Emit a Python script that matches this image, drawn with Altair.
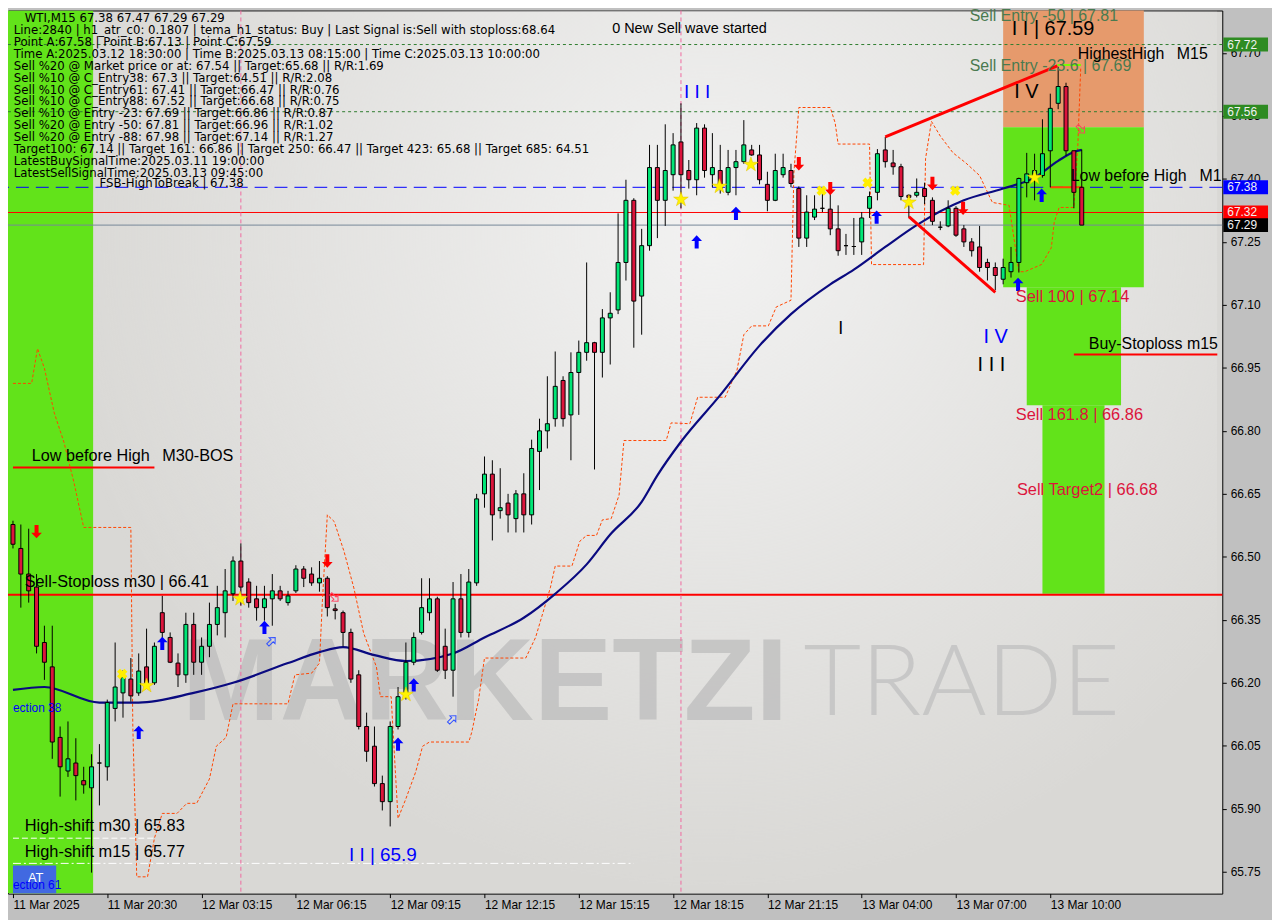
import altair as alt
import pandas as pd

# ---------------- values ----------------
bars = list(range(137))
opens = [66.577,66.520,66.459,66.428,66.296,66.238,66.070,65.990,66.009,65.967,
         65.950,66.009,66.000,66.139,66.176,66.209,66.176,66.238,66.200,66.367,
         66.308,66.247,66.219,66.339,66.249,66.287,66.339,66.367,66.412,66.490,
         66.440,66.400,66.379,66.400,66.419,66.391,66.419,66.471,66.459,66.438,
         66.449,66.376,66.367,66.320,66.219,66.096,66.049,65.960,65.917,66.096,
         66.167,66.249,66.320,66.367,66.400,66.287,66.230,66.400,66.320,66.438,
         66.650,66.697,66.610,66.628,66.591,66.650,66.600,66.751,66.800,66.829,
         66.920,66.838,66.939,66.987,67.010,66.987,67.069,67.088,67.201,67.349,
         67.121,67.241,67.427,67.349,67.410,67.488,67.420,67.398,67.521,67.410,
         67.420,67.368,67.427,67.441,67.469,67.457,67.387,67.349,67.410,67.420,
         67.377,67.259,67.309,67.330,67.328,67.281,67.241,67.239,67.250,67.330,
         67.368,67.469,67.438,67.429,67.361,67.361,67.377,67.349,67.285,67.288,
         67.330,67.281,67.250,67.238,67.201,67.189,67.161,67.179,67.201,67.391,
         67.408,67.408,67.467,67.580,67.620,67.467,67.380]
highs = [66.586,66.577,66.567,66.459,66.336,66.336,66.096,66.108,66.068,66.000,
         66.030,66.054,66.160,66.296,66.230,66.259,66.270,66.329,66.296,66.407,
         66.320,66.270,66.367,66.367,66.308,66.391,66.431,66.471,66.501,66.532,
         66.449,66.431,66.431,66.459,66.431,66.419,66.480,66.478,66.475,66.490,
         66.454,66.388,66.372,66.329,66.230,66.129,66.096,65.979,66.108,66.190,
         66.296,66.320,66.449,66.449,66.405,66.329,66.440,66.459,66.471,66.650,
         66.739,66.730,66.711,66.650,66.659,66.699,66.779,66.829,66.930,66.989,
         66.930,66.987,67.015,67.201,67.012,67.090,67.130,67.318,67.398,67.354,
         67.281,67.481,67.481,67.530,67.509,67.580,67.445,67.533,67.530,67.509,
         67.481,67.469,67.469,67.540,67.481,67.481,67.417,67.460,67.460,67.436,
         67.382,67.361,67.361,67.377,67.377,67.337,67.269,67.307,67.321,67.370,
         67.471,67.500,67.469,67.436,67.363,67.401,67.391,67.356,67.299,67.349,
         67.335,67.290,67.259,67.288,67.210,67.201,67.210,67.238,67.403,67.462,
         67.460,67.542,67.603,67.667,67.629,67.467,67.470]
lows = [66.520,66.379,66.391,66.270,66.207,66.019,65.929,65.976,65.920,65.936,
        65.748,65.908,65.967,66.108,66.117,66.155,66.169,66.190,66.195,66.299,
        66.247,66.190,66.200,66.219,66.219,66.261,66.313,66.308,66.395,66.384,
        66.379,66.348,66.348,66.336,66.395,66.384,66.414,66.428,66.431,66.417,
        66.358,66.351,66.287,66.200,66.089,66.012,65.953,65.896,65.858,66.089,
        66.160,66.242,66.315,66.348,66.226,66.209,66.167,66.308,66.308,66.431,
        66.617,66.539,66.591,66.558,66.558,66.558,66.577,66.659,66.758,66.810,
        66.810,66.730,66.838,66.967,66.708,66.927,66.958,67.078,67.158,66.998,
        67.029,67.229,67.259,67.288,67.372,67.330,67.377,67.361,67.403,67.380,
        67.365,67.361,67.361,67.436,67.455,67.387,67.323,67.347,67.403,67.380,
        67.238,67.238,67.302,67.321,67.266,67.217,67.219,67.219,67.219,67.307,
        67.349,67.427,67.410,67.349,67.309,67.356,67.340,67.290,67.278,67.285,
        67.262,67.238,67.215,67.179,67.158,67.135,67.149,67.165,67.177,67.356,
        67.349,67.403,67.380,67.566,67.455,67.330,67.290]
closes = [66.530,66.459,66.419,66.287,66.249,66.059,66.000,66.019,65.979,65.957,
          66.000,66.009,66.153,66.190,66.214,66.169,66.228,66.200,66.287,66.320,
          66.249,66.219,66.339,66.249,66.287,66.339,66.379,66.419,66.490,66.428,
          66.391,66.379,66.400,66.419,66.400,66.407,66.471,66.449,66.438,66.449,
          66.379,66.372,66.320,66.209,66.096,66.037,65.960,65.917,66.096,66.167,
          66.249,66.308,66.379,66.400,66.230,66.230,66.400,66.320,66.440,66.638,
          66.697,66.600,66.617,66.600,66.650,66.600,66.758,66.800,66.817,66.906,
          66.829,66.939,66.987,67.010,66.987,67.069,67.080,67.201,67.349,67.109,
          67.241,67.427,67.349,67.420,67.481,67.410,67.398,67.521,67.420,67.427,
          67.377,67.427,67.441,67.481,67.457,67.398,67.349,67.420,67.427,67.389,
          67.259,67.321,67.328,67.330,67.281,67.229,67.241,67.239,67.307,67.358,
          67.460,67.441,67.429,67.358,67.356,67.368,67.358,67.299,67.285,67.330,
          67.266,67.250,67.229,67.189,67.189,67.170,67.189,67.201,67.401,67.412,
          67.420,67.460,67.568,67.620,67.467,67.368,67.290]

tick_bars = [0, 12, 24, 36, 48, 60, 72, 84, 96, 108, 120, 132]
tick_labels = ["11 Mar 2025", "11 Mar 20:30", "12 Mar 03:15", "12 Mar 06:15",
               "12 Mar 09:15", "12 Mar 12:15", "12 Mar 15:15", "12 Mar 18:15",
               "12 Mar 21:15", "13 Mar 04:00", "13 Mar 07:00", "13 Mar 10:00"]
price_ticks = [65.75, 65.90, 66.05, 66.20, 66.35, 66.50, 66.65, 66.80,
               66.95, 67.10, 67.25, 67.40, 67.55, 67.70]

ma_bars = [0,4,11,16,23,28,35,39,42,46,50,56,60,65,69,73,76,80,82,85,
           90,95,99,104,107,111,115,121,126,130,133,135,136]
ma_values = [66.183,66.190,66.153,66.153,66.176,66.200,66.247,66.273,66.285,66.266,
             66.252,66.270,66.308,66.355,66.412,66.482,66.553,66.631,66.694,66.774,
             66.885,67.003,67.078,67.149,67.184,67.238,67.290,67.349,67.377,67.403,
             67.443,67.464,67.469]

stop_bars = [0,2.375,3.125,4.0,5.25,6.5,7.75,9.0,15.0,15.25,15.75,17.125,18.0,19.0,
             20.875,22.125,23.375,25.0,25.875,27.125,28.0,35.0,35.875,38.0,39.0,39.375,
             40.0,40.875,42.125,43.375,44.625,46.25,46.75,48.125,48.375,49.0,50.0,51.25,
             52.125,53.0,58.0,58.375,59.25,60.0,65.25,66.5,68.375,69.0,71.125,72.125,73.0,
             74.25,75.0,76.125,77.125,77.75,83.125,83.75,86.125,87.125,90.625,92.125,93.0,
             94.0,96.125,97.125,99.0,99.375,100.0,104.0,104.625,105.0,109.0,109.25,115.875,
             116.125,116.875,118.0,119.625,121.25,123.0,124.625,126.75,127.5,128.0,128.75,
             130.875,132.125,132.5,133.125,135.0,135.5,135.875]
stop_values = [66.913,66.913,66.996,66.949,66.843,66.772,66.678,66.570,66.570,66.096,
               65.738,65.738,65.830,65.889,65.889,65.913,65.913,65.971,66.049,66.070,
               66.150,66.150,66.219,66.223,66.247,66.395,66.600,66.584,66.513,66.426,
               66.318,66.238,66.167,66.167,66.082,65.877,65.924,65.988,66.049,66.059,
               66.059,66.082,66.160,66.259,66.259,66.308,66.426,66.478,66.478,66.537,
               66.551,66.551,66.588,66.591,66.647,66.777,66.777,66.819,66.817,66.880,
               66.880,66.944,67.029,67.050,67.050,67.095,67.111,67.415,67.570,67.570,
               67.533,67.483,67.483,67.196,67.196,67.448,67.537,67.502,67.462,67.438,
               67.408,67.344,67.337,67.243,67.179,67.179,67.196,67.236,67.297,67.332,
               67.332,67.478,67.667]

buy_arrow_bars = [16, 19, 32, 49, 51, 87, 92, 109.9, 127.9, 130.9]
buy_arrow_prices = [66.082, 66.294, 66.332, 66.054, 66.195, 67.250, 67.318, 67.309, 67.149, 67.361]
sell_arrow_bars = [3, 40, 100, 104, 117, 120.9]
sell_arrow_prices = [66.560, 66.490, 67.436, 67.377, 67.389, 67.330]
star_bars = [17, 28.9, 50, 85, 89.9, 93.9, 114, 130]
star_prices = [66.193, 66.400, 66.172, 67.351, 67.382, 67.434, 67.344, 67.403]
cross_bars = [13.9, 102.9, 108.75, 119.9]
cross_prices = [66.221, 67.372, 67.391, 67.372]
hollow_buy_bars = [32.9, 55.9]
hollow_buy_prices = [66.299, 66.113]
hollow_sell_bars = [40.9, 135.9]
hollow_sell_prices = [66.403, 67.518]

info_lines = [
    "Line:2840 | h1_atr_c0: 0.1807 | tema_h1_status: Buy | Last Signal is:Sell with stoploss:68.64",
    "Point A:67.58 | Point B:67.13 | Point C:67.59",
    "Time A:2025.03.12 18:30:00 | Time B:2025.03.13 08:15:00 | Time C:2025.03.13 10:00:00",
    "Sell %20 @ Market price or at: 67.54 || Target:65.68 || R/R:1.69",
    "Sell %10 @ C_Entry38: 67.3 || Target:64.51 || R/R:2.08",
    "Sell %10 @ C_Entry61: 67.41 || Target:66.47 || R/R:0.76",
    "Sell %10 @ C_Entry88: 67.52 || Target:66.68 || R/R:0.75",
    "Sell %10 @ Entry -23: 67.69 || Target:66.86 || R/R:0.87",
    "Sell %20 @ Entry -50: 67.81 || Target:66.96 || R/R:1.02",
    "Sell %20 @ Entry -88: 67.98 || Target:67.14 || R/R:1.27",
    "Target100: 67.14 || Target 161: 66.86 || Target 250: 66.47 || Target 423: 65.68 || Target 685: 64.51",
    "LatestBuySignalTime:2025.03.11 19:00:00",
    "LatestSellSignalTime:2025.03.13 09:45:00",
]
title_line = "WTI,M15  67.38 67.47 67.29 67.29"

tag_prices = [67.72, 67.56, 67.38, 67.32, 67.29]
tag_colors = ["#2E8B22", "#2E8B22", "#0000FF", "#FF0000", "#000000"]

# ---------------- layout ----------------
W, H = 1221, 888
X_DOM = [0, 153.25]
Y_DOM = [65.698, 67.801]
FONT = "Liberation Sans"
INFO_FONT = "DejaVu Sans"

xs = alt.Scale(domain=X_DOM, nice=False, zero=False)
ys = alt.Scale(domain=Y_DOM, nice=False, zero=False)
label_expr = "[" + ",".join("'%s'" % t for t in tick_labels) + "][round(datum.value/12)]"
xaxis = alt.Axis(values=tick_bars, labelExpr=label_expr, title=None, grid=False,
                 orient="bottom", tickSize=4, tickColor="#000000", domain=False,
                 labelAlign="left", labelFont=FONT, labelFontSize=12, labelColor="#000000",
                 labelPadding=2, labelOverlap=False, labelFlush=False)
yaxis = alt.Axis(values=price_ticks, format=".2f", title=None, grid=False, orient="right",
                 tickSize=4, tickColor="#000000", domain=False, labelFont=FONT,
                 labelFontSize=12, labelColor="#000000", labelPadding=4,
                 labelOverlap=False, labelFlush=False)


def X(f):
    return alt.X(f, type="quantitative", scale=xs, axis=xaxis)


def Y(f):
    return alt.Y(f, type="quantitative", scale=ys, axis=yaxis)


def ref_price(ypx):
    # vertical position of screen-anchored text (reference pixel row -> price)
    return 67.25 - (ypx - 237) / 424.7


candles = pd.DataFrame({"i": bars, "o": opens, "h": highs, "l": lows, "c": closes})

# soft light area behind the watermark logo
glow = alt.Chart(pd.DataFrame({"x": [X_DOM[0]], "x2": [X_DOM[1]], "y": [Y_DOM[0]], "y2": [Y_DOM[1]]})).mark_rect(
    fill=alt.Gradient(gradient="radial", x1=0.58, y1=0.32, x2=0.58, y2=0.32, r1=0, r2=0.55,
                      stops=[alt.GradientStop(color="rgba(246,246,246,0.85)", offset=0),
                             alt.GradientStop(color="rgba(246,246,246,0.35)", offset=0.6),
                             alt.GradientStop(color="rgba(246,246,246,0)", offset=1)])
).encode(x=X("x"), x2="x2", y=Y("y"), y2="y2")

# zones
zones = pd.DataFrame({
    "x": [-1, 126.0, 126.0, 129.0, 131.0],
    "x2": [10.2, 143.9, 143.9, 141.0, 138.9],
    "y": [Y_DOM[0], 67.523, 67.142, 66.861, 66.412],
    "y2": [Y_DOM[1], 67.82, 67.523, 67.142, 66.861],
    "col": ["#62E31A", "#E69A6C", "#62E31A", "#62E31A", "#62E31A"],
})
zone_layer = alt.Chart(zones).mark_rect(clip=True).encode(
    x=X("x"), x2="x2", y=Y("y"), y2="y2", fill=alt.Fill("col:N", scale=None))

at_box = alt.Chart(pd.DataFrame({"x": [0], "x2": [5.5], "y": [Y_DOM[0]], "y2": [65.765]})).mark_rect(
    color="#4169E1", clip=True).encode(x=X("x"), x2="x2", y=Y("y"), y2="y2")

# watermark
wm1 = alt.Chart(pd.DataFrame({"x": [21.5], "y": [66.195], "t": ["MARKETZI"]})).mark_text(
    align="left", baseline="middle", font=FONT, fontWeight="bold", fontSize=118,
    color="#BDBDBD", opacity=0.75).encode(x=X("x"), y=Y("y"), text="t")
wm2 = alt.Chart(pd.DataFrame({"x": [100.6], "y": [66.195], "t": ["TRADE"]})).mark_text(
    align="left", baseline="middle", font="Lato", fontWeight=300, fontSize=100,
    color="#C2C2C2", opacity=0.8).encode(x=X("x"), y=Y("y"), text="t")


def hline(price, color, width=1, dash=None):
    kw = dict(color=color, strokeWidth=width)
    if dash:
        kw["strokeDash"] = dash
    return alt.Chart(pd.DataFrame({"p": [price]})).mark_rule(**kw).encode(y=Y("p"))


def seg(x1, x2, p, color, width=2, dash=None):
    kw = dict(color=color, strokeWidth=width, clip=True)
    if dash:
        kw["strokeDash"] = dash
    return alt.Chart(pd.DataFrame({"x": [x1], "x2": [x2], "p": [p]})).mark_rule(**kw).encode(
        x=X("x"), x2="x2", y=Y("p"))


def diag(x1, p1, x2, p2, color, width=3):
    return alt.Chart(pd.DataFrame({"x": [x1], "x2": [x2], "p": [p1], "p2": [p2]})).mark_rule(
        color=color, strokeWidth=width).encode(x=X("x"), x2="x2", y=Y("p"), y2="p2")


lines = [
    hline(67.72, "#2F7D2F", 1, [3, 3]),
    hline(67.56, "#2F7D2F", 1, [3, 3]),
    hline(67.38, "#0000FF", 1, [13, 7]),
    hline(67.32, "#FF0000", 1),
    hline(67.29, "#778899", 1),
    hline(66.41, "#FF0000", 2),
    seg(0, 18, 66.713, "#FF0000", 2),
    seg(135, 153.25, 66.982, "#FF0000", 2),
    seg(132, 136.1, 67.38, "#FF4500", 2),
    seg(132.9, 135.9, 67.671, "#7CFC00", 2),
    seg(0, 18, 65.83, "#FFFFFF", 1, [6, 3]),
    seg(0, 79, 65.77, "#FFFFFF", 1, [8, 3, 2, 3]),
]

vlines = alt.Chart(pd.DataFrame({"x": [29, 85]})).mark_rule(
    color="#F06AA0", strokeWidth=1, strokeDash=[4, 3]).encode(x=X("x"))

stop_df = pd.DataFrame({"x": stop_bars, "p": stop_values, "k": range(len(stop_bars))})
stop_layer = alt.Chart(stop_df).mark_line(color="#FF4500", strokeWidth=1, strokeDash=[3, 2]).encode(
    x=X("x"), y=Y("p"), order="k:Q")

ma_df = pd.DataFrame({"x": ma_bars, "p": ma_values})
ma_layer = alt.Chart(ma_df).mark_line(color="#0A0A80", strokeWidth=2.2, interpolate="monotone").encode(
    x=X("x"), y=Y("p"))

wicks = alt.Chart(candles).mark_rule(color="#000000", strokeWidth=1).encode(
    x=X("i"), y=Y("l"), y2="h")
bodies = alt.Chart(candles).mark_bar(size=4, stroke="#000000", strokeWidth=1).encode(
    x=X("i"), y=Y("o"), y2="c",
    fill=alt.condition("datum.c >= datum.o", alt.value("#00E676"), alt.value("#DC143C")))

trend = [diag(111.0, 67.500, 132.9, 67.669, "#FF0000", 3),
         diag(114.0, 67.310, 125.0, 67.130, "#FF0000", 3)]

UP = "M0,-1L0.8,-0.15L0.3,-0.15L0.3,1L-0.3,1L-0.3,-0.15L-0.8,-0.15Z"
DOWN = "M0,1L0.8,0.15L0.3,0.15L0.3,-1L-0.3,-1L-0.3,0.15L-0.8,0.15Z"
STAR = ("M0,-1L0.2245,-0.309L0.951,-0.309L0.3633,0.118L0.5878,0.809L0,0.382"
        "L-0.5878,0.809L-0.3633,0.118L-0.951,-0.309L-0.2245,-0.309Z")

buy_layer = alt.Chart(pd.DataFrame({"x": buy_arrow_bars, "p": buy_arrow_prices})).mark_point(
    shape=UP, filled=True, color="#0000FF", size=180, opacity=1).encode(x=X("x"), y=Y("p"))
sell_layer = alt.Chart(pd.DataFrame({"x": sell_arrow_bars, "p": sell_arrow_prices})).mark_point(
    shape=DOWN, filled=True, color="#FF0000", size=180, opacity=1).encode(x=X("x"), y=Y("p"))
star_layer = alt.Chart(pd.DataFrame({"x": star_bars, "p": star_prices})).mark_point(
    shape=STAR, filled=True, fill="#FFF200", stroke="#E0C000", strokeWidth=0.5, size=240,
    opacity=1).encode(x=X("x"), y=Y("p"))
cross_layer = alt.Chart(pd.DataFrame({"x": cross_bars, "p": cross_prices})).mark_point(
    shape="cross", angle=45, filled=True, color="#FFEE00", size=110, opacity=1).encode(
    x=X("x"), y=Y("p"))
hollow_buy = alt.Chart(pd.DataFrame({"x": hollow_buy_bars, "p": hollow_buy_prices})).mark_point(
    shape=UP, filled=False, stroke="#3050FF", strokeWidth=1, size=110, angle=45, opacity=1).encode(
    x=X("x"), y=Y("p"))
hollow_sell = alt.Chart(pd.DataFrame({"x": hollow_sell_bars, "p": hollow_sell_prices})).mark_point(
    shape=UP, filled=False, stroke="#FF4060", strokeWidth=1, size=110, angle=135, opacity=1).encode(
    x=X("x"), y=Y("p"))

# annotations (text, bar position, price position, colour, font size)
ann = pd.DataFrame([
    ("0 New Sell wave started", 76.25, 67.756, "#000000", 14.5),
    ("I I I", 85.4, 67.608, "#0000FF", 19),
    ("I I | 67.59", 127.1, 67.756, "#000000", 20),
    ("Sell Entry -50 | 67.81", 121.75, 67.789, "#4A7A50", 16),
    ("Sell Entry -23.6 | 67.69", 121.75, 67.669, "#4A7A50", 16),
    ("HighestHigh", 135.5, 67.697, "#000000", 16),
    ("M15", 148.1, 67.697, "#000000", 16),
    ("I V", 127.4, 67.608, "#000000", 20),
    ("Low before High", 134.6, 67.408, "#000000", 16),
    ("M1", 151.0, 67.408, "#000000", 16),
    ("Sell 100 | 67.14", 127.6, 67.118, "#DC143C", 16.5),
    ("I V", 123.5, 67.024, "#0000FF", 20),
    ("I I I", 122.75, 66.956, "#000000", 20),
    ("I", 105.0, 67.043, "#000000", 18),
    ("Buy-Stoploss m15", 136.9, 67.007, "#000000", 16),
    ("Sell 161.8 | 66.86", 127.6, 66.838, "#DC143C", 16.5),
    ("Sell Target2 | 66.68", 127.75, 66.659, "#DC143C", 16.5),
    ("Low before High", 2.4, 66.739, "#000000", 16.3),
    ("M30-BOS", 19.0, 66.739, "#000000", 16.3),
    ("Sell-Stoploss m30 | 66.41", 1.5, 66.440, "#000000", 16.3),
    ("High-shift m30 | 65.83", 1.5, 65.858, "#000000", 16.5),
    ("High-shift m15 | 65.77", 1.5, 65.797, "#000000", 16.5),
    ("I I | 65.9", 42.75, 65.790, "#0000FF", 19),
    ("ection 38", 0.0, 66.141, "#0000FF", 12),
    ("ection 61", 0.0, 65.719, "#0000FF", 12),
    ("AT", 1.9, 65.734, "#FFFFFF", 13),
], columns=["t", "x", "p", "col", "fs"])

info = pd.DataFrame({
    "t": [title_line] + info_lines + ["FSB-HighToBreak | 67.38"],
    "x": [1.5] + [0.1] * len(info_lines) + [11.0],
    "p": [ref_price(11 + 12 * k) for k in range(len(info_lines) + 1)] + [67.391],
})

ann_layer = alt.Chart(ann).mark_text(align="left", baseline="middle", font=FONT).encode(
    x=X("x"), y=Y("p"), text="t", color=alt.Color("col:N", scale=None),
    size=alt.Size("fs:Q", scale=None))
info_layer = alt.Chart(info).mark_text(align="left", baseline="middle", font=INFO_FONT,
                                       fontSize=11.8, color="#000000").encode(
    x=X("x"), y=Y("p"), text="t")

# price tags on the right axis
tags = pd.DataFrame({"p": tag_prices, "col": tag_colors})
tag_box = alt.Chart(tags).mark_rect().encode(
    x=alt.value(W + 1), x2=alt.value(W + 46),
    y=Y("lo"), y2="hi", fill=alt.Fill("col:N", scale=None)
).transform_calculate(lo="datum.p - 0.0165", hi="datum.p + 0.0165")
tag_text = alt.Chart(tags).mark_text(align="left", baseline="middle", font=FONT, fontSize=12,
                                     color="#F2F2F2").encode(
    x=alt.value(W + 5), y=Y("p"), text=alt.Text("p:Q", format=".2f"))

chart = alt.layer(
    glow, zone_layer, at_box, wm1, wm2, *lines, vlines, stop_layer, ma_layer,
    wicks, bodies, *trend, buy_layer, sell_layer, star_layer, cross_layer,
    hollow_buy, hollow_sell, info_layer, ann_layer, tag_box, tag_text,
).properties(
    width=W, height=H, autosize="none",
    padding={"left": 0, "top": 0, "right": 50, "bottom": 24},
    background="#C0C0C0",
).configure_view(fill="#D9D8D5", stroke="#000000", strokeWidth=1)

chart.save("out.html", embed_options={"renderer": "svg", "actions": False})
